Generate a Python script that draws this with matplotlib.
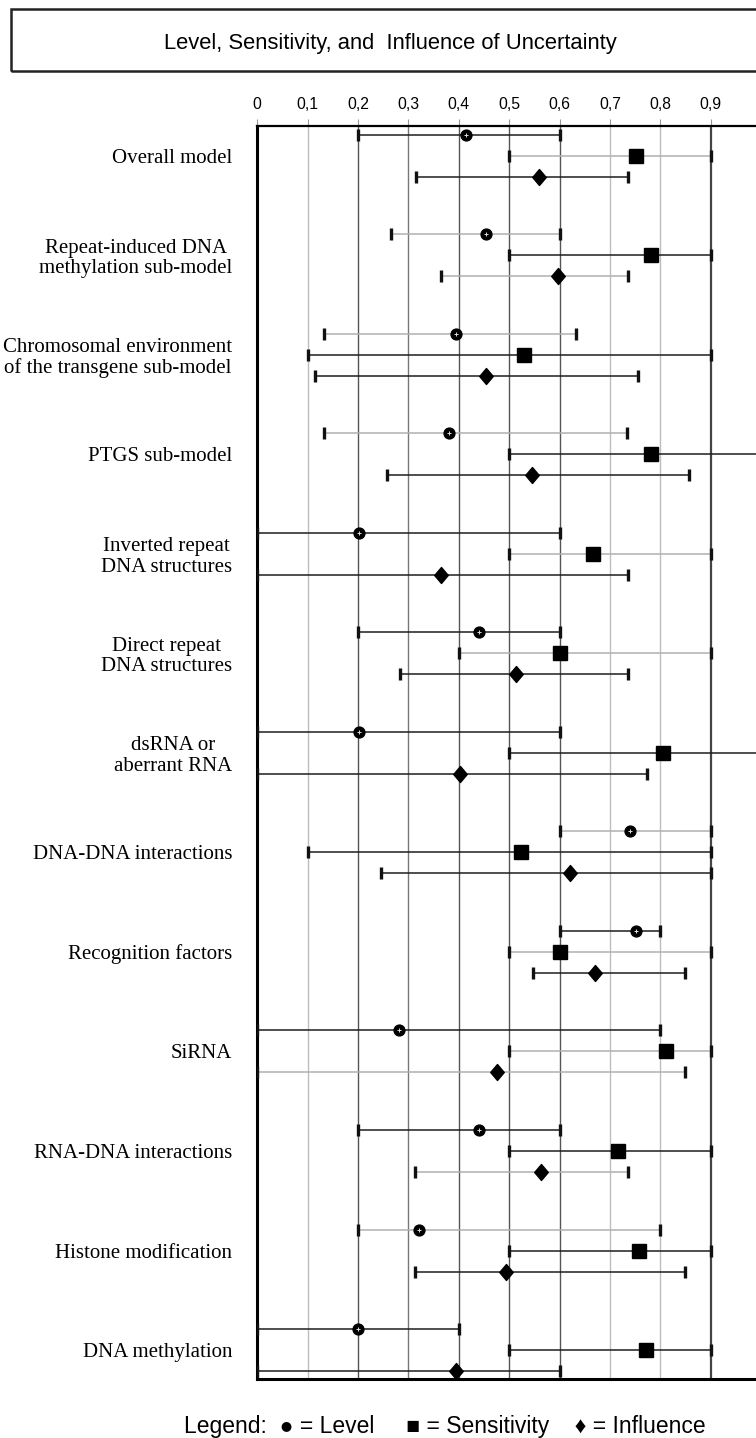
import numpy as np
import matplotlib
matplotlib.use("Agg")
import matplotlib.pyplot as plt
from matplotlib.patches import Rectangle
from matplotlib.path import Path

categories = [
    "Overall model",
    "Repeat-induced DNA\nmethylation sub-model",
    "Chromosomal environment\nof the transgene sub-model",
    "PTGS sub-model",
    "Inverted repeat\nDNA structures",
    "Direct repeat\nDNA structures",
    "dsRNA or\naberrant RNA",
    "DNA-DNA interactions",
    "Recognition factors",
    "SiRNA",
    "RNA-DNA interactions",
    "Histone modification",
    "DNA methylation",
]

level_mid = [0.415, 0.454, 0.394, 0.381, 0.202, 0.441, 0.202, 0.740, 0.751, 0.282, 0.441, 0.322, 0.200]
level_lo = [0.2, 0.265, 0.133, 0.133, 0.0, 0.2, 0.0, 0.6, 0.6, 0.0, 0.2, 0.2, 0.0]
level_hi = [0.6, 0.6, 0.633, 0.734, 0.6, 0.6, 0.6, 0.9, 0.8, 0.8, 0.6, 0.8, 0.4]

sens_mid = [0.751, 0.782, 0.529, 0.782, 0.667, 0.600, 0.805, 0.523, 0.601, 0.811, 0.717, 0.757, 0.771]
sens_lo = [0.5, 0.5, 0.1, 0.5, 0.5, 0.4, 0.5, 0.1, 0.5, 0.5, 0.5, 0.5, 0.5]
sens_hi = [0.9, 0.9, 0.9, 1.0, 0.9, 0.9, 1.0, 0.9, 0.9, 0.9, 0.9, 0.9, 0.9]

infl_mid = [0.559, 0.596, 0.454, 0.545, 0.365, 0.514, 0.402, 0.620, 0.671, 0.476, 0.563, 0.493, 0.394]
infl_lo = [0.315, 0.364, 0.115, 0.257, 0.0, 0.284, 0.0, 0.245, 0.547, 0.0, 0.314, 0.314, 0.0]
infl_hi = [0.735, 0.735, 0.755, 0.857, 0.735, 0.735, 0.774, 0.9, 0.849, 0.849, 0.735, 0.849, 0.6]

x_ticks = [0, 0.1, 0.2, 0.3, 0.4, 0.5, 0.6, 0.7, 0.8, 0.9]
x_ticklabels = ["0", "0,1", "0,2", "0,3", "0,4", "0,5", "0,6", "0,7", "0,8", "0,9"]

# range line shade per bar (the scan has dark and faint lines): d = dark, l = light
level_shade = "dllldddldddld"
sens_shade = "ldddllddllddd"
infl_shade = "dldddddddlldd"
grid_shade = "ldmdddllD"

DARK, LIGHT = "#1e1e1e", "#b0b0b0"
shade_map = {"d": "#555555", "m": "#777777", "l": "#bdbdbd", "D": "#444444"}

diamond = Path([(0, 1), (0.85, 0), (0, -1), (-0.85, 0), (0, 1)],
               [Path.MOVETO, Path.LINETO, Path.LINETO, Path.LINETO, Path.CLOSEPOLY])

fig = plt.figure(figsize=(7.56, 14.38), dpi=100)
W, H = 756.0, 1438.0
ax = fig.add_axes([257.3 / W, 59 / H, (761 - 257.3) / W, (1379 - 125.7) / H])

pos = np.arange(len(categories))
off = 0.211

series = [
    (level_lo, level_mid, level_hi, level_shade, -off),
    (sens_lo, sens_mid, sens_hi, sens_shade, 0.0),
    (infl_lo, infl_mid, infl_hi, infl_shade, off),
]
for lo, mid, hi, shade, dy in series:
    y = pos + dy
    cols = [DARK if s == "d" else LIGHT for s in shade]
    ax.hlines(y, lo, hi, colors=cols, linewidth=1.1, zorder=3)
    ax.scatter(lo, y, marker="|", s=64, linewidths=2.4, color="#111111", zorder=4)
    ax.scatter(hi, y, marker="|", s=64, linewidths=2.4, color="#111111", zorder=4)

ax.plot(level_mid, pos - off, "o", ms=7.8, color="black", zorder=5)
ax.plot(level_mid, pos - off, "+", ms=2.6, mew=0.7, color="#dddddd", zorder=6)
ax.plot(sens_mid, pos, "s", ms=9.5, color="black", zorder=5)
ax.plot(infl_mid, pos + off, marker=diamond, ls="none", ms=11.5, color="black", zorder=5)

ax.set_xlim(0, 1.0)
ax.set_ylim(len(categories) - 1 + 0.291, -0.301)

ax.xaxis.tick_top()
ax.set_xticks(x_ticks)
ax.set_xticklabels(x_ticklabels, family="Liberation Sans", fontsize=11.3)
ax.tick_params(axis="x", direction="out", length=5, width=0.8, color="#999999", pad=5)
ax.set_yticks(pos)
ax.set_yticklabels(categories, family="Liberation Serif", fontsize=15, linespacing=1.12,
                   multialignment="center")
ax.tick_params(axis="y", length=0, pad=18)

ax.grid(True, axis="x", zorder=0)
for gl, s in zip(ax.xaxis.get_gridlines()[1:], grid_shade):
    gl.set_color(shade_map[s])
    gl.set_linewidth(1.6 if s == "D" else 1.0)
ax.xaxis.get_gridlines()[0].set_visible(False)
ax.set_axisbelow(True)

ax.spines["left"].set_linewidth(2.2)
ax.spines["bottom"].set_linewidth(2.2)
ax.spines["top"].set_linewidth(1.6)
ax.spines["right"].set_visible(False)

# title box
fig.patches.append(Rectangle((11 / W, 1 - 71 / H), 1.0, 62 / H, transform=fig.transFigure,
                             fill=False, linewidth=1.8, edgecolor="#222222"))
fig.text(390 / W, 1 - 43 / H, "Level, Sensitivity, and  Influence of Uncertainty",
         ha="center", va="center", family="Liberation Sans", fontsize=15.8)

fig.text(445 / W, 1 - 1426 / H,
         "Legend:  \u25cf = Level     \u25a0 = Sensitivity    \u2666 = Influence",
         ha="center", va="center", family=["Liberation Sans", "DejaVu Sans"], fontsize=16.5)

fig.savefig("out.png", dpi=100)
